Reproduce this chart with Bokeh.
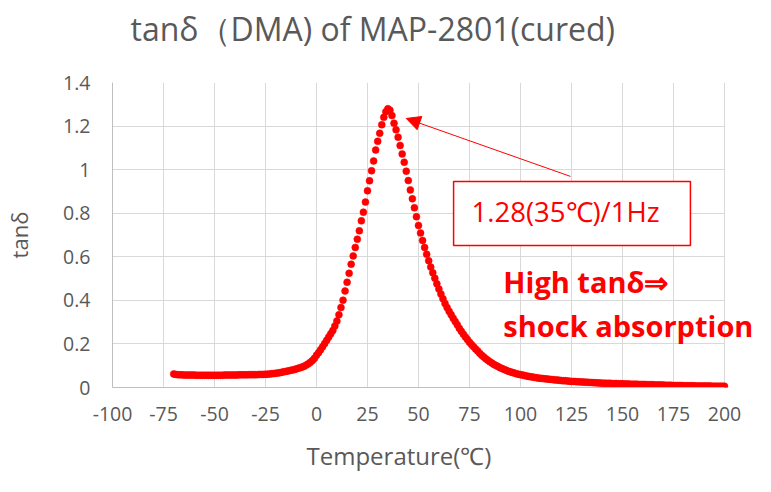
from bokeh.plotting import figure
from bokeh.models import (Range1d, FixedTicker, NumeralTickFormatter, Label, Title,
                          BoxAnnotation, Arrow, NormalHead, ColumnDataSource)
from bokeh.embed import file_html
from bokeh.resources import INLINE

# ---------------- data ----------------
title_text = "tanδ（DMA) of MAP-2801(cured)"
x_label = "Temperature(℃)"
y_label = "tanδ"
x_ticks = [-100, -75, -50, -25, 0, 25, 50, 75, 100, 125, 150, 175, 200]
y_ticks = [0, 0.2, 0.4, 0.6, 0.8, 1.0, 1.2, 1.4]
peak_note = "1.28(35℃)/1Hz"
claim_line1 = "High tanδ⇒"
claim_line2 = "shock absorption"

temperature_c = [
    -70, -69, -68, -67, -66, -65, -64, -63, -62, -61,
    -60, -59, -58, -57, -56, -55, -54, -53, -52, -51,
    -50, -49, -48, -47, -46, -45, -44, -43, -42, -41,
    -40, -39, -38, -37, -36, -35, -34, -33, -32, -31,
    -30, -29, -28, -27, -26, -25, -24, -23, -22, -21,
    -20, -19, -18, -17, -16, -15, -14, -13, -12, -11,
    -10, -9, -8, -7, -6, -5, -4, -3, -2, -1,
    0, 1, 2, 3, 4, 5, 6, 7, 8, 9,
    10, 11, 12, 13, 14, 15, 16, 17, 18, 19,
    20, 21, 22, 23, 24, 25, 26, 27, 28, 29,
    30, 31, 32, 33, 34, 35, 36, 37, 38, 39,
    40, 41, 42, 43, 44, 45, 46, 47, 48, 49,
    50, 51, 52, 53, 54, 55, 56, 57, 58, 59,
    60, 61, 62, 63, 64, 65, 66, 67, 68, 69,
    70, 71, 72, 73, 74, 75, 76, 77, 78, 79,
    80, 81, 82, 83, 84, 85, 86, 87, 88, 89,
    90, 91, 92, 93, 94, 95, 96, 97, 98, 99,
    100, 101, 102, 103, 104, 105, 106, 107, 108, 109,
    110, 111, 112, 113, 114, 115, 116, 117, 118, 119,
    120, 121, 122, 123, 124, 125, 126, 127, 128, 129,
    130, 131, 132, 133, 134, 135, 136, 137, 138, 139,
    140, 141, 142, 143, 144, 145, 146, 147, 148, 149,
    150, 151, 152, 153, 154, 155, 156, 157, 158, 159,
    160, 161, 162, 163, 164, 165, 166, 167, 168, 169,
    170, 171, 172, 173, 174, 175, 176, 177, 178, 179,
    180, 181, 182, 183, 184, 185, 186, 187, 188, 189,
    190, 191, 192, 193, 194, 195, 196, 197, 198, 199, 200,
]

tan_delta = [
    0.062, 0.060, 0.059, 0.058, 0.058, 0.057, 0.057, 0.057, 0.057, 0.057,
    0.057, 0.056, 0.056, 0.056, 0.056, 0.056, 0.056, 0.056, 0.056, 0.056,
    0.056, 0.056, 0.056, 0.056, 0.056, 0.057, 0.057, 0.057, 0.057, 0.057,
    0.057, 0.057, 0.058, 0.058, 0.058, 0.058, 0.058, 0.059, 0.059, 0.059,
    0.059, 0.059, 0.060, 0.060, 0.060, 0.061, 0.061, 0.062, 0.063, 0.064,
    0.065, 0.066, 0.068, 0.070, 0.072, 0.074, 0.076, 0.078, 0.080, 0.082,
    0.085, 0.088, 0.091, 0.094, 0.098, 0.103, 0.109, 0.116, 0.124, 0.134,
    0.148, 0.160, 0.173, 0.187, 0.202, 0.217, 0.232, 0.247, 0.262, 0.282,
    0.305, 0.334, 0.367, 0.401, 0.443, 0.483, 0.524, 0.566, 0.604, 0.643,
    0.681, 0.719, 0.765, 0.805, 0.851, 0.903, 0.949, 0.995, 1.040, 1.090,
    1.130, 1.167, 1.206, 1.240, 1.266, 1.280, 1.273, 1.248, 1.213, 1.183,
    1.149, 1.111, 1.072, 1.034, 0.993, 0.950, 0.907, 0.866, 0.825, 0.784,
    0.744, 0.709, 0.675, 0.643, 0.612, 0.582, 0.553, 0.527, 0.502, 0.476,
    0.452, 0.429, 0.407, 0.386, 0.367, 0.350, 0.334, 0.318, 0.303, 0.288,
    0.272, 0.258, 0.245, 0.232, 0.220, 0.208, 0.197, 0.187, 0.177, 0.168,
    0.157, 0.148, 0.140, 0.132, 0.125, 0.118, 0.112, 0.106, 0.101, 0.096,
    0.091, 0.087, 0.083, 0.079, 0.075, 0.072, 0.069, 0.066, 0.063, 0.061,
    0.059, 0.057, 0.055, 0.053, 0.051, 0.049, 0.048, 0.046, 0.045, 0.043,
    0.042, 0.041, 0.040, 0.039, 0.038, 0.037, 0.036, 0.035, 0.034, 0.033,
    0.032, 0.031, 0.031, 0.030, 0.029, 0.028, 0.028, 0.027, 0.026, 0.026,
    0.025, 0.025, 0.024, 0.024, 0.023, 0.023, 0.022, 0.022, 0.021, 0.021,
    0.020, 0.020, 0.019, 0.019, 0.019, 0.018, 0.018, 0.018, 0.017, 0.017,
    0.017, 0.016, 0.016, 0.016, 0.015, 0.015, 0.015, 0.015, 0.014, 0.014,
    0.014, 0.014, 0.013, 0.013, 0.013, 0.013, 0.012, 0.012, 0.012, 0.012,
    0.011, 0.010, 0.010, 0.010, 0.010, 0.009, 0.009, 0.009, 0.009, 0.009,
    0.008, 0.008, 0.008, 0.008, 0.008, 0.008, 0.007, 0.007, 0.007, 0.007,
    0.007, 0.007, 0.007, 0.007, 0.006, 0.006, 0.006, 0.006, 0.006, 0.006, 0.006,
]

# ---------------- styling ----------------
FONT = "Open Sans"
TXT = "#595959"
RED = "#FF0000"
X_MIN, X_MAX, X_VIEW_END = -100, 200, 215.2   # view extends past 200 so labels are not clipped

p = figure(width=755, height=476, output_backend="svg", toolbar_location=None,
           x_range=Range1d(X_MIN, X_VIEW_END), y_range=Range1d(0, 1.4),
           min_border_left=112, min_border_right=0,
           min_border_top=82, min_border_bottom=89)

# spacer between title and frame (pushes the title up)
p.add_layout(Title(text=" ", text_font_size="12px", standoff=17), "above")

p.title.text = title_text
p.title.text_font = FONT
p.title.text_font_size = "32px"
p.title.text_font_style = "normal"
p.title.text_color = TXT
p.title.align = "left"
p.title.offset = 18
p.title.standoff = 0

p.outline_line_color = None
p.background_fill_color = "white"
p.border_fill_color = "white"

for ax in (p.xaxis[0], p.yaxis[0]):
    ax.axis_line_color = "#BFBFBF"
    ax.axis_line_width = 1
    ax.major_tick_in = 0
    ax.major_tick_out = 0
    ax.minor_tick_in = 0
    ax.minor_tick_out = 0
    ax.major_label_text_font = FONT
    ax.major_label_text_font_size = "19.5px"
    ax.major_label_text_color = TXT
    ax.axis_label_text_font = FONT
    ax.axis_label_text_font_size = "22px"
    ax.axis_label_text_font_style = "normal"
    ax.axis_label_text_color = TXT

p.xaxis.ticker = FixedTicker(ticks=x_ticks)
p.yaxis.ticker = FixedTicker(ticks=y_ticks)
p.xaxis.formatter = NumeralTickFormatter(format="0")
p.yaxis.formatter = NumeralTickFormatter(format="0.[0]")
p.xaxis.bounds = (X_MIN, X_MAX)
p.yaxis.axis_label = y_label
p.xaxis.major_label_standoff = 19
p.yaxis.major_label_standoff = 22
p.yaxis.axis_label_standoff = 26

# spacer below the tick labels, then the x-axis title (placed like the original)
p.add_layout(Title(text=" ", text_font_size="2px", standoff=9), "below")
p.add_layout(Title(text=x_label, text_font=FONT, text_font_size="24px",
                   text_font_style="normal", text_color=TXT, align="left",
                   offset=194, standoff=4, vertical_align="top"), "below")

p.xgrid.grid_line_color = "#D9D9D9"
p.ygrid.grid_line_color = "#D9D9D9"
p.xgrid.grid_line_width = 1
p.ygrid.grid_line_width = 1

# hide the grid beyond the last category (x > 200)
p.add_layout(BoxAnnotation(left=X_MAX + 0.3, fill_color="white", fill_alpha=1.0,
                           line_color=None, level="underlay"))

src = ColumnDataSource(data=dict(temp=temperature_c, tan=tan_delta))
p.scatter(x="temp", y="tan", source=src, size=7, marker="circle",
          fill_color=RED, line_color=RED, line_width=0.5)

# annotation box + arrow
p.add_layout(BoxAnnotation(left=67.2, right=183.3, bottom=0.652, top=0.946,
                           fill_color="white", fill_alpha=1.0,
                           line_color=RED, line_width=1.5, line_alpha=1.0))

p.add_layout(Arrow(end=NormalHead(size=14, fill_color=RED, line_color=RED, line_width=1),
                   x_start=124.5, y_start=0.969, x_end=44.0, y_end=1.235,
                   line_color=RED, line_width=1))

p.add_layout(Label(x=122.1, y=0.806, text=peak_note, text_align="center",
                   text_baseline="middle", text_font=FONT, text_font_size="27.5px",
                   text_color=RED))
p.add_layout(Label(x=91.6, y=0.485, text=claim_line1, text_align="left",
                   text_baseline="alphabetic", text_font=FONT,
                   text_font_size="29px", text_font_style="bold", text_color=RED))
p.add_layout(Label(x=91.6, y=0.283, text=claim_line2, text_align="left",
                   text_baseline="alphabetic", text_font=FONT,
                   text_font_size="29px", text_font_style="bold", text_color=RED))

open("out.html", "w").write(file_html(p, INLINE))
